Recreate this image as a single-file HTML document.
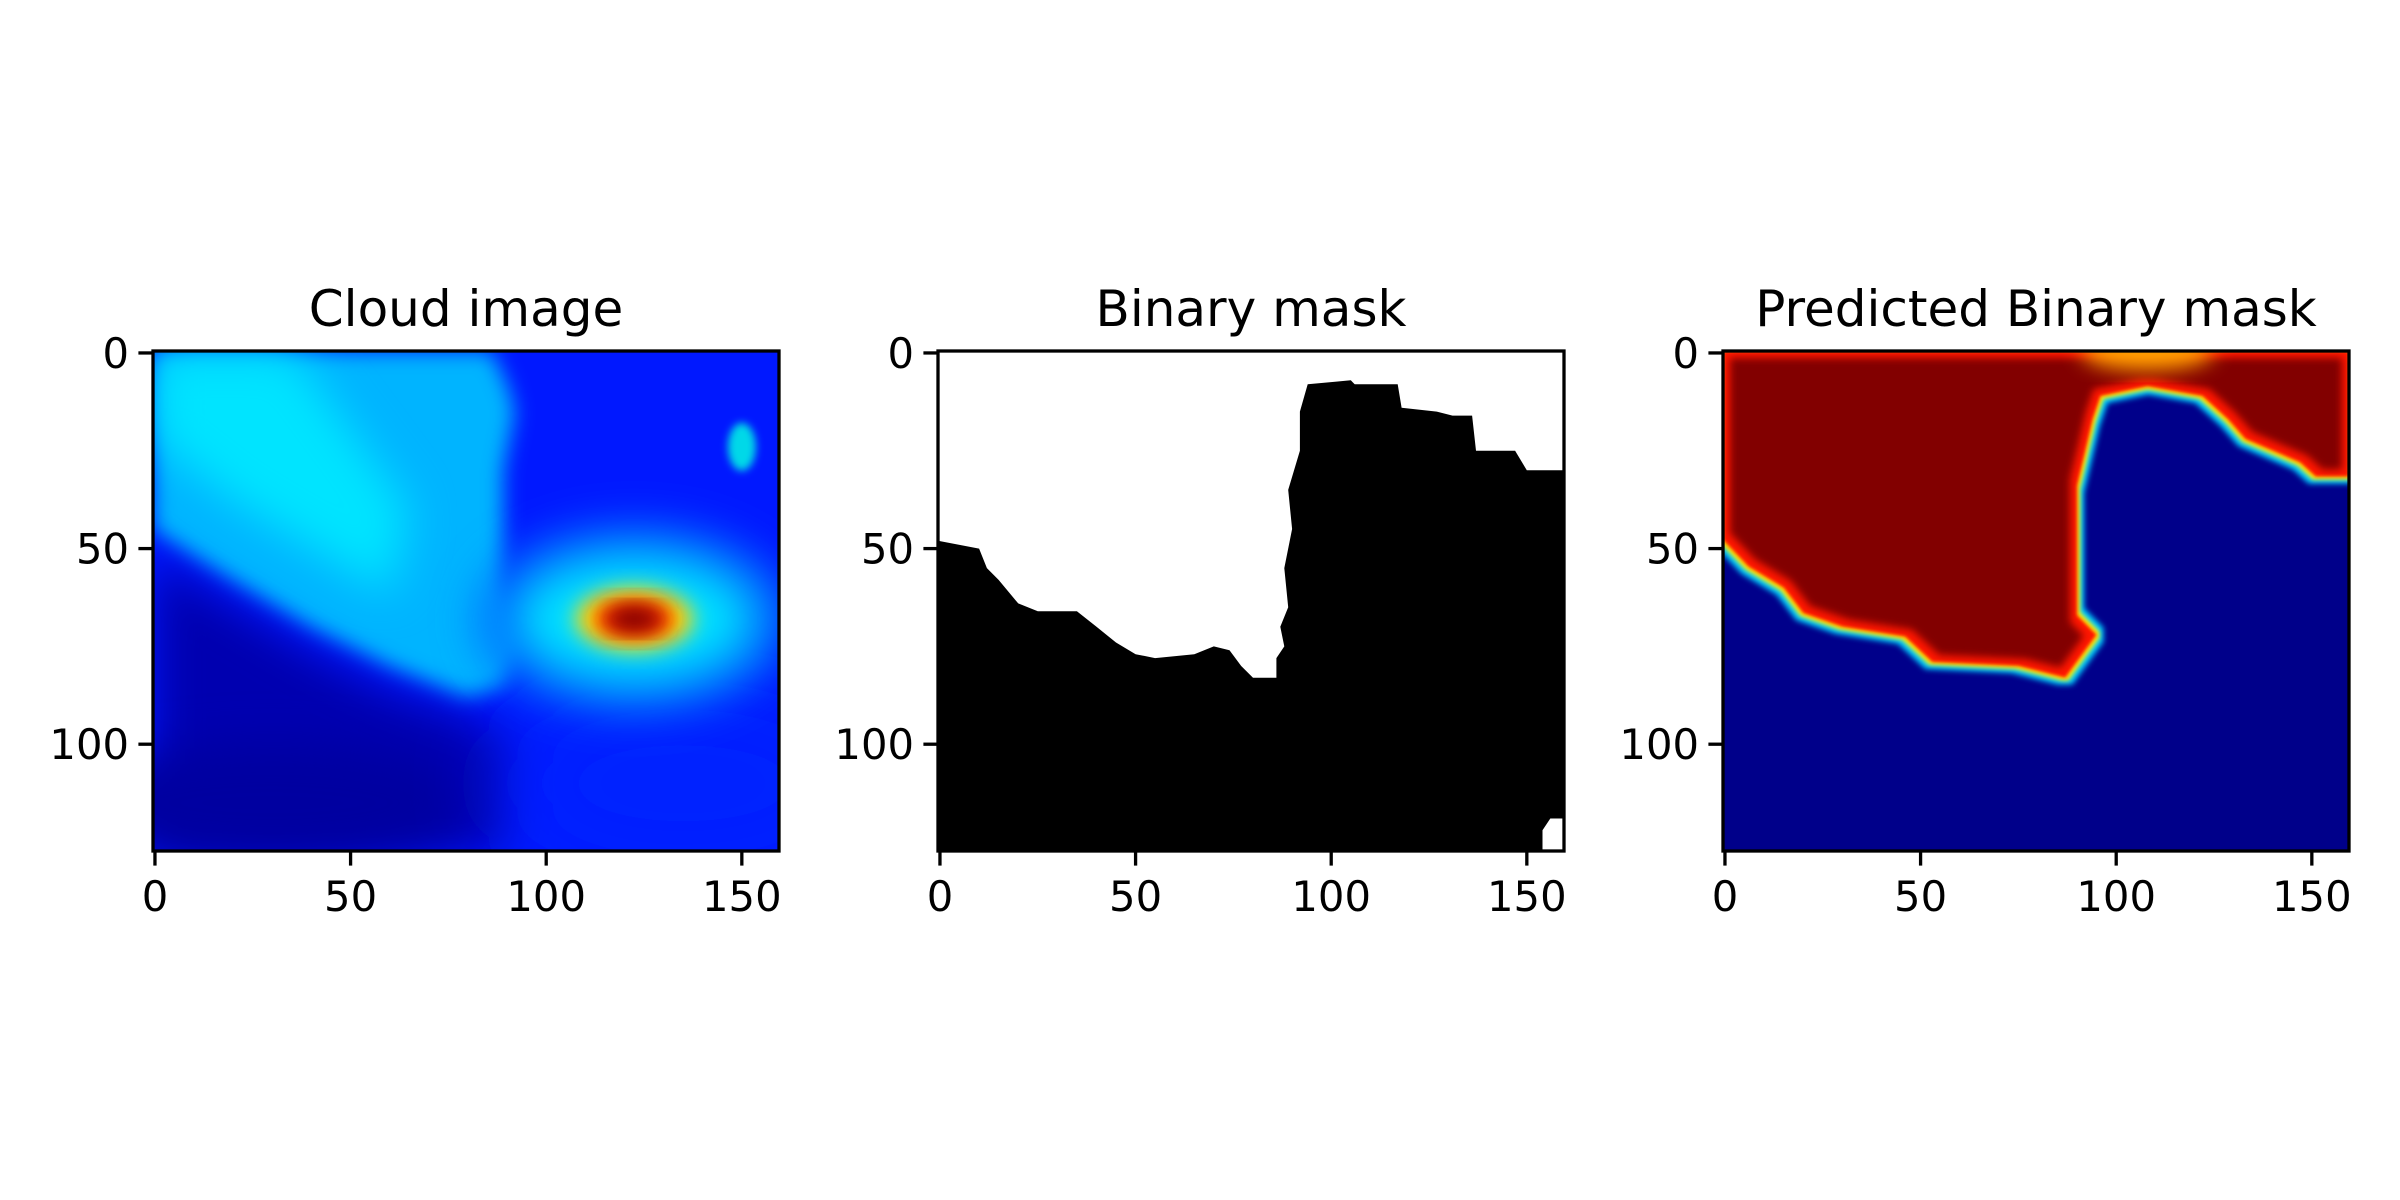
<!DOCTYPE html>
<html><head><meta charset="utf-8"><style>
html,body{margin:0;padding:0;background:#fff;}
svg{display:block;}
text{font-family:"DejaVu Sans","Liberation Sans",sans-serif;fill:#000;}
</style></head><body>
<svg id="fig" width="2400" height="1200" viewBox="0 0 2400 1200" xmlns="http://www.w3.org/2000/svg">
<defs>
<filter id="b1" x="-20%" y="-20%" width="140%" height="140%"><feGaussianBlur stdDeviation="1.5"/></filter>
<filter id="b3" x="-50%" y="-50%" width="200%" height="200%"><feGaussianBlur stdDeviation="4"/></filter>
<filter id="b8" x="-30%" y="-30%" width="160%" height="160%"><feGaussianBlur stdDeviation="10"/></filter>
<filter id="b16" x="-80%" y="-80%" width="260%" height="260%"><feGaussianBlur stdDeviation="22"/></filter>
<filter id="b40" x="-100%" y="-100%" width="300%" height="300%"><feGaussianBlur stdDeviation="45"/></filter>
<filter id="dil" x="-20%" y="-20%" width="140%" height="140%"><feMorphology operator="dilate" radius="7"/><feGaussianBlur stdDeviation="3"/></filter>
<filter id="dil2" x="-20%" y="-20%" width="140%" height="140%"><feMorphology operator="dilate" radius="3"/><feGaussianBlur stdDeviation="2"/></filter>
<filter id="ero" x="-20%" y="-20%" width="140%" height="140%"><feMorphology operator="erode" radius="7"/><feGaussianBlur stdDeviation="4"/></filter>
<clipPath id="c1"><rect x="153" y="351" width="626" height="500"/></clipPath>
<clipPath id="c2"><rect x="938" y="351" width="626" height="500"/></clipPath>
<clipPath id="c3"><rect x="1723" y="351" width="626" height="500"/></clipPath>
</defs>
</svg>
<script>
// ---- data ----
const xTicks = [0, 50, 100, 150];
const yTicks = [0, 50, 100];
const titles = ["Cloud image", "Binary mask", "Predicted Binary mask"];
// black region boundary of binary mask (data coords, x,y)
const maskBlackX = [-0.5,10,12,15,20,25,35,40,45,50,55,65,70,74,77,80,86,86,88,87,89,88,90,89,92,92,94,105,106,117,118,127,131,136,137,147,150,159.5,159.5,156,154,154,-0.5];
const maskBlackY = [48,50,55,58,64,66,66,70,74,77,78,77,75,76,80,83,83,78,75,70,65,55,45,35,25,15,8,7,8,8,14,15,16,16,25,25,30,30,119,119,122,127.5,127.5];
// predicted high-probability region boundary
const predX = [-0.5,6,15,20,30,46,53,75,87,95,90,90,92,94,96,108,122,128.6,133,147,151,159.5,159.5,-0.5];
const predY = [47.8,54.6,60,66.5,70,72.5,79,80,83,72,67,34,25.6,17,11,8.5,11,17,22,28,31.6,31.6,-0.5,-0.5];
// cloud image regions
const cloudX = [-0.5,86,90,92,89,89,93,97,92,89,80,60,40,20,-0.5];
const cloudY = [-0.5,-0.5,8,15,30,60,70,71,78,85,88,80,70,58,45];
const darkX = [-0.5,20,40,60,80,92,90,60,-0.5];
const darkY = [52,64,76,86,93,100,127.5,127.5,127.5];
const hotCx = 122.5, hotCy = 68;
const hotRx = [40,30,15,10,7];
const hotRy = [24,16,8,5,3.4];
const hotColors = ["#0070ff","#00e0ff","#ffe000","#ff2000","#800000"];

// ---- layout ----
const panelX0 = [153, 938, 1723];
const Y0 = 351, K = 626/160;
const NS = "http://www.w3.org/2000/svg";
const svg = document.getElementById('fig');
function sx(p, u){ return panelX0[p] + (u + 0.5) * K; }
function sy(v){ return Y0 + (v + 0.5) * K; }
function mk(tag, attrs, parent){
  const e = document.createElementNS(NS, tag);
  for (const k in attrs) e.setAttribute(k, attrs[k]);
  (parent || svg).appendChild(e);
  return e;
}
function pts(p, xs, ys){ return xs.map((x,i)=>sx(p,x).toFixed(1)+','+sy(ys[i]).toFixed(1)).join(' '); }

// Panel 1: cloud image
let g = mk('g', {'clip-path':'url(#c1)'});


mk('rect', {x:153,y:351,width:626,height:500,fill:'#0018ff'}, g);
let e = mk('polygon', {points: pts(0,darkX,darkY), fill:'#0000b0', filter:'url(#b16)'}, g);
mk('ellipse', {cx:sx(0,30),cy:sy(115),rx:200,ry:60,fill:'#0000a0',filter:'url(#b16)'}, g);
mk('ellipse', {cx:sx(0,135),cy:sy(110),rx:180,ry:90,fill:'#0024ff',filter:'url(#b40)'}, g);
e = mk('polygon', {points: pts(0,cloudX,cloudY), fill:'#00b4ff', filter:'url(#b8)'}, g);


mk('polygon', {points: pts(0,[-0.5,35,65,60,20,-0.5],[-0.5,-0.5,40,62,38,22]), fill:'#00e4ff', filter:'url(#b16)'}, g);
mk('ellipse', {cx:sx(0,150),cy:sy(24),rx:14,ry:24,fill:'#00d8e8',filter:'url(#b3)'}, g);
for (let i=0;i<hotRx.length;i++){
  e = mk('ellipse', {cx:sx(0,hotCx),cy:sy(hotCy),rx:hotRx[i]*K,ry:hotRy[i]*K,fill:hotColors[i],filter:i<2?'url(#b16)':'url(#b8)'}, g);
  
  
}

// Panel 2: binary mask
g = mk('g', {'clip-path':'url(#c2)'});


mk('rect', {x:938,y:351,width:626,height:500,fill:'#ffffff'}, g);
e = mk('polygon', {points: pts(1,maskBlackX,maskBlackY), fill:'#000'}, g);



// Panel 3: predicted
g = mk('g', {'clip-path':'url(#c3)'});


mk('rect', {x:1723,y:351,width:626,height:500,fill:'#00008a'}, g);
const pp = pts(2,predX,predY);
mk('polygon', {points:pp, fill:'#00d0ff', filter:'url(#dil)'}, g);
mk('polygon', {points:pp, fill:'#ffe800', filter:'url(#dil2)'}, g);
mk('polygon', {points:pp, fill:'#ff1800', filter:'url(#b1)'}, g);
e = mk('polygon', {points:pp, fill:'#820000', filter:'url(#ero)'}, g);


mk('ellipse', {cx:sx(2,108),cy:351,rx:17*K,ry:5*K,fill:'#ffa000',filter:'url(#b8)'}, g);

// Axes, ticks, titles
for (let p=0;p<3;p++){
  const ax = mk('g', {});
  
  
  mk('rect', {x:panelX0[p],y:351,width:626,height:500,fill:'none',stroke:'#000','stroke-width':3.3}, ax);
  const t = mk('text', {x:panelX0[p]+313,y:326,'font-size':50,'text-anchor':'middle'}, ax);
  t.textContent = titles[p];
  
  
  xTicks.forEach(v=>{
    const x = sx(p,v);
    mk('line', {x1:x,x2:x,y1:851,y2:865.6,stroke:'#000','stroke-width':3.3}, ax);
    const l = mk('text', {x:x,y:911,'font-size':41.7,'text-anchor':'middle'}, ax);
    l.textContent = v;
    
    
  });
  yTicks.forEach(v=>{
    const y = sy(v);
    mk('line', {x1:panelX0[p]-14.6,x2:panelX0[p],y1:y,y2:y,stroke:'#000','stroke-width':3.3}, ax);
    const l = mk('text', {x:panelX0[p]-24,y:y+15,'font-size':41.7,'text-anchor':'end'}, ax);
    l.textContent = v;
    
    
  });
}
</script>
</body></html>
